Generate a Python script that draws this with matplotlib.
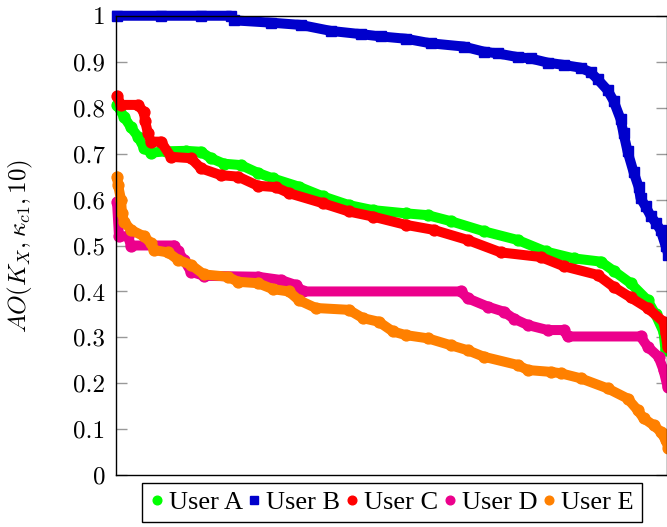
import numpy as np
import matplotlib
matplotlib.use('Agg')
import matplotlib.pyplot as plt

plt.rcParams['mathtext.fontset'] = 'cm'
plt.rcParams['axes.formatter.use_mathtext'] = True
plt.rcParams['font.serif'] = ['Liberation Serif', 'DejaVu Serif']

# rank position (px from left of the axis) and AO value
x_a = [0, 7, 14, 21, 27, 34, 49, 69, 84, 94, 107, 124, 141, 156, 182, 206, 232, 256, 289, 311,
       334, 367, 401, 429, 457, 484, 497, 514, 531, 539, 547, 549]
y_a = [0.806, 0.78, 0.757, 0.737, 0.712, 0.702, 0.705, 0.706, 0.704, 0.69, 0.678, 0.675, 0.658,
       0.646, 0.628, 0.607, 0.588, 0.577, 0.57, 0.566, 0.553, 0.531, 0.512, 0.487, 0.472, 0.465,
       0.445, 0.418, 0.381, 0.35, 0.312, 0.272]

x_b = [0, 44, 84, 114, 117, 154, 184, 214, 244, 264, 289, 314, 347, 367, 381, 401, 414, 431, 447,
       464, 474, 481, 491, 497, 504, 507, 511, 517, 522, 524, 529, 534, 539, 544, 549, 552]
y_b = [1.0, 1.0, 1.0, 1.0, 0.99, 0.985, 0.98, 0.967, 0.96, 0.955, 0.95, 0.94, 0.933, 0.922, 0.918,
       0.91, 0.907, 0.898, 0.893, 0.887, 0.877, 0.862, 0.838, 0.815, 0.775, 0.744, 0.705, 0.66,
       0.628, 0.603, 0.585, 0.565, 0.55, 0.534, 0.5, 0.48]

x_c = [0, 4, 21, 27, 28, 31, 34, 44, 54, 74, 84, 104, 121, 141, 159, 172, 206, 232, 256, 289,
       317, 351, 384, 424, 447, 481, 497, 514, 531, 547, 549, 551]
y_c = [0.825, 0.806, 0.806, 0.79, 0.772, 0.744, 0.726, 0.726, 0.693, 0.69, 0.668, 0.653, 0.65,
       0.63, 0.627, 0.614, 0.592, 0.574, 0.563, 0.545, 0.534, 0.512, 0.485, 0.475, 0.455, 0.436,
       0.41, 0.387, 0.364, 0.334, 0.31, 0.28]

x_d = [0, 2, 11, 14, 57, 61, 67, 74, 87, 141, 164, 179, 186, 344, 351, 371, 387, 397, 411, 431,
       447, 451, 524, 531, 542, 547, 551]
y_d = [0.595, 0.52, 0.52, 0.5, 0.5, 0.487, 0.469, 0.443, 0.434, 0.432, 0.425, 0.414, 0.4, 0.4,
       0.385, 0.367, 0.356, 0.341, 0.327, 0.316, 0.316, 0.302, 0.302, 0.28, 0.258, 0.229, 0.193]

x_e = [0, 1, 4, 5, 7, 14, 27, 34, 37, 51, 61, 74, 87, 111, 121, 141, 156, 172, 182, 199, 232, 246,
       262, 276, 289, 311, 334, 351, 367, 401, 411, 434, 444, 464, 491, 511, 521, 527, 537, 544,
       549, 552]
y_e = [0.65, 0.632, 0.6, 0.57, 0.552, 0.534, 0.52, 0.505, 0.49, 0.485, 0.469, 0.458, 0.437, 0.432,
       0.421, 0.418, 0.405, 0.4, 0.381, 0.364, 0.36, 0.342, 0.334, 0.313, 0.305, 0.298, 0.283,
       0.272, 0.258, 0.24, 0.229, 0.225, 0.222, 0.211, 0.189, 0.167, 0.142, 0.124, 0.109, 0.095,
       0.077, 0.06]

nombres = ['User A', 'User B', 'User C', 'User D', 'User E']
colores = ['#00ff00', '#0000cc', '#ff0000', '#ec008c', '#ff8000']
marcas = ['o', 's', 'o', 'o', 'o']
yticks = [0, 0.1, 0.2, 0.3, 0.4, 0.5, 0.6, 0.7, 0.8, 0.9, 1]
yticklabels = ['0', '0.1', '0.2', '0.3', '0.4', '0.5', '0.6', '0.7', '0.8', '0.9', '1']

fig = plt.figure(figsize=(6.67, 5.27), dpi=100)
ax = fig.add_axes([116.5 / 667, (527 - 475.25) / 527, 551 / 667, 459.5 / 527])

series = [(x_a, y_a), (x_b, y_b), (x_c, y_c), (x_d, y_d), (x_e, y_e)]
for (xs, ys), nom, col, m in zip(series, nombres, colores, marcas):
    cap = 'projecting' if m == 's' else 'round'
    # banda gruesa + marcadores
    ax.plot(xs, ys, color=col, lw=7.2, solid_capstyle=cap, solid_joinstyle='round',
            clip_on=False)
    ax.plot(xs, ys, ls='none', marker=m, ms=7.8, color=col, mec=col, clip_on=False,
            label=nom)

ax.set_xlim(-0.5, 551)
ax.set_ylim(0, 1)
ax.set_xticks([])
ax.set_yticks(yticks)
ax.set_yticklabels(yticklabels, fontfamily='cmr10', fontsize=18)
ax.tick_params(axis='y', direction='in', length=8, width=1, color='#999999',
               right=True, pad=8)
for s in ax.spines.values():
    s.set_linewidth(1)
    s.set_color('black')

ax.set_ylabel(r'$AO(K_X,\kappa_{c1},10)$', fontsize=18)
ax.yaxis.set_label_coords(-0.148, 0.5)

handles, labels = ax.get_legend_handles_labels()
leg = ax.legend(handles, labels, loc='upper center', bbox_to_anchor=(0.5, -0.017),
                borderaxespad=0, ncol=5, frameon=True, fancybox=False, framealpha=1,
                edgecolor='black', handlelength=0.5, handletextpad=0.2, columnspacing=0.2,
                borderpad=0.3, markerscale=0.8,
                prop={'family': 'serif', 'size': 19})
leg.get_frame().set_linewidth(1)

fig.savefig('out.png', dpi=100)
